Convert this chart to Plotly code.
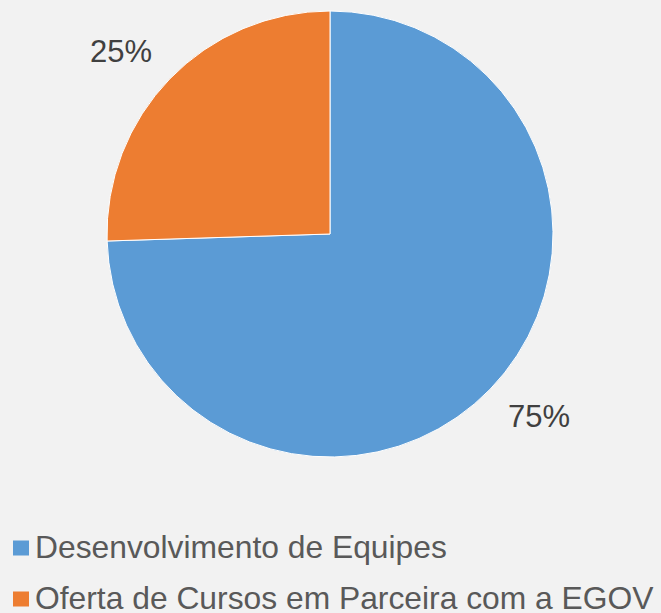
import math
import plotly.graph_objects as go

labels = ["Desenvolvimento de Equipes", "Oferta de Cursos em Parceira com a EGOV"]
values = [74.5, 25.5]
pct_text = ["75%", "25%"]
colors = ["#5B9BD5", "#ED7D31"]

W, H = 661, 613
BG = "#F2F2F2"
FONT = "Liberation Sans, Arial, sans-serif"

# pie geometry (pixels)
cx, cy, R = 330, 234, 223

fig = go.Figure()
fig.add_trace(go.Pie(
    labels=labels,
    values=values,
    textinfo="none",
    marker=dict(colors=colors, line=dict(color="#FFFFFF", width=1)),
    sort=False,
    direction="clockwise",
    rotation=0,
    showlegend=False,
    hoverinfo="label+percent",
    domain=dict(x=[(cx - R) / W, (cx + R) / W], y=[(H - cy - R) / H, (H - cy + R) / H]),
))

annotations = []
shapes = []

# percentage labels outside each slice: near corner of the label sits on the mid-angle ray
total = sum(values)
cum = 0.0
for v, t in zip(values, pct_text):
    mid = (cum + v / 2) / total * 2 * math.pi  # clockwise from 12 o'clock
    cum += v
    k = 1.105
    s, c = math.sin(mid), math.cos(mid)
    px = cx + k * R * s
    py = cy - k * R * c
    half_h = 11.5
    yc = py - half_h if c > 0 else py + half_h
    annotations.append(dict(
        text=t, xref="paper", yref="paper",
        x=px / W, y=(H - yc) / H,
        xanchor="left" if s > 0 else "right", yanchor="middle",
        showarrow=False, borderpad=0,
        font=dict(family=FONT, size=31, color="#404040"),
    ))

# Manual legend (to reproduce the wide row spacing)
row_y = [548, 599]
for i, lab in enumerate(labels):
    yc = row_y[i]
    shapes.append(dict(
        type="rect", xref="paper", yref="paper",
        x0=13 / W, x1=29 / W, y0=(H - yc - 7.5) / H, y1=(H - yc + 7.5) / H,
        fillcolor=colors[i], line=dict(width=0),
    ))
    annotations.append(dict(
        text=lab, xref="paper", yref="paper",
        x=34 / W, y=(H - yc + 1) / H, xanchor="left", yanchor="middle",
        showarrow=False, borderpad=0,
        font=dict(family=FONT, size=31.8, color="#595959"),
    ))

fig.update_layout(
    width=W, height=H,
    margin=dict(l=0, r=0, t=0, b=0),
    paper_bgcolor=BG, plot_bgcolor=BG,
    shapes=shapes, annotations=annotations,
)

fig.write_html(
    "out.html",
    config={"displayModeBar": False},
    post_script="document.body.style.margin='0';document.body.style.padding='0';document.body.style.overflow='hidden';",
)
